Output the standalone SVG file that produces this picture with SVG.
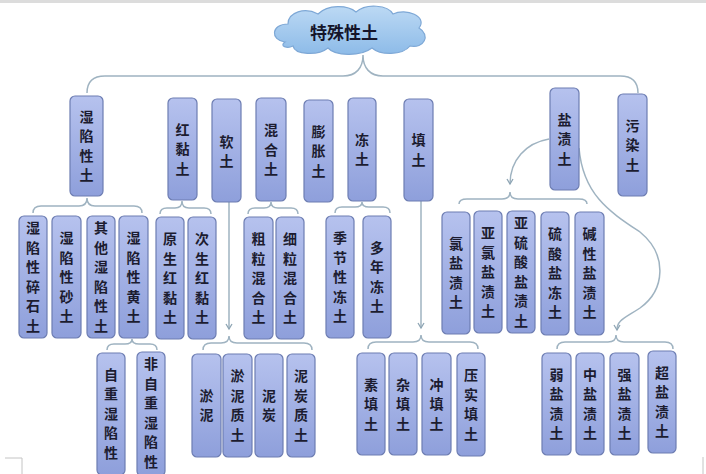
<svg xmlns="http://www.w3.org/2000/svg" width="706" height="474" viewBox="0 0 706 474">
<defs>
<linearGradient id="ng" x1="0" y1="0" x2="0" y2="1">
<stop offset="0" stop-color="#b6c2ee"/>
<stop offset="1" stop-color="#8e9fdb"/>
</linearGradient>
<linearGradient id="cg" x1="0" y1="0" x2="0" y2="1">
<stop offset="0" stop-color="#bcd9f4"/>
<stop offset="1" stop-color="#8dbbe8"/>
</linearGradient>
<marker id="ah" markerWidth="8" markerHeight="8" refX="6" refY="4" orient="auto" markerUnits="userSpaceOnUse">
<path d="M1,1 L6,4 L1,7" fill="none" stroke="#8ea5b4" stroke-width="1.3"/>
</marker>
<style>
.n{fill:url(#ng);stroke:#6d7db2;stroke-width:1.2}
.t{font-family:"Noto Sans CJK SC","Noto Sans CJK TC",sans-serif;font-size:14px;font-weight:bold;fill:#1c1c30;text-anchor:middle}
.c{fill:none;stroke:#9fb3c1;stroke-width:1.5}
.a{marker-end:url(#ah)}
</style>
</defs>
<rect x="0" y="0" width="706" height="474" fill="#ffffff"/>
<rect x="0" y="0" width="706" height="3" fill="#dcdcdc"/>
<path d="M5,458 L22,458 L22,474" fill="none" stroke="#c4c4c4" stroke-width="1"/>
<path d="M703,457 L703,474" fill="none" stroke="#c4c4c4" stroke-width="1"/>

<g id="connectors">
<path class="c" d="M87,93 C87,82 92,76 105,76 L343,76 C356,76 363,68 363,55 C363,68 370,76 383,76 L620,76 C633,76 638,82 638,93"/>
<path class="c" d="M33,213 Q33,206 41,206 L79,206 Q87,206 87,198 Q87,206 95,206 L134,206 Q142,206 142,213"/>
<path class="c" d="M160,214 Q160,208 167,208 L175,208 Q182,208 182,201 Q182,208 189,208 L204,208 Q211,208 211,214"/>
<path class="c" d="M248,214 Q248,208 255,208 L264,208 Q271,208 271,202 Q271,208 278,208 L291,208 Q298,208 298,214"/>
<path class="c" d="M335,213 Q335,207 342,207 L355,207 Q362,207 362,202 Q362,207 369,207 L383,207 Q390,207 390,213"/>
<path class="c a" d="M229,202 L229,329"/>
<path class="c" d="M203,350 Q203,343 211,343 L221,343 Q229,343 229,336 Q229,343 237,343 L304,343 Q312,343 312,350"/>
<path class="c a" d="M421,201 L421,328"/>
<path class="c" d="M368,349 Q368,342 376,342 L413,342 Q421,342 421,335 Q421,342 429,342 L470,342 Q478,342 478,349"/>
<path class="c" d="M107,350 Q107,344 114,344 L125,344 Q132,344 132,339 Q132,344 139,344 L150,344 Q157,344 157,350"/>
<path class="c a" d="M549,139 C526,143 510,160 510,184"/>
<path class="c" d="M459,204 Q459,199 467,199 L502,199 Q510,199 510,192 Q510,199 518,199 L579,199 Q587,199 587,204"/>
<path class="c a" d="M579,148 C583,195 610,212 640,232 C668,255 665,290 640,308 C625,318 617,320 617,330"/>
<path class="c" d="M557,349 Q557,342 565,342 L608,342 Q616,342 616,335 Q616,342 624,342 L665,342 Q673,342 673,349"/>
</g>

<g id="root">
<path d="M285,42 C270,40 271,24 288,24 C288,12 305,7 318,14 C328,4 348,5 356,12 C366,3 388,5 393,14 C406,8 428,16 419,28 C431,35 424,49 410,46 C402,56 380,55 372,48 C360,57 335,56 328,48 C318,56 295,55 293,46 C287,49 279,46 285,42 Z" fill="url(#cg)" stroke="#7ea8d6" stroke-width="1.2"/>
<text x="344" y="39" style="font-family:'Noto Sans CJK SC',sans-serif;font-size:17px;font-weight:bold;fill:#15152a;text-anchor:middle">特殊性土</text>
</g>

<g id="n-shixianxing"><rect class="n" x="70" y="96" width="33" height="100" rx="5"/><text class="t"><tspan x="86.5" y="121.8">湿</tspan><tspan x="86.5" y="141.3">陷</tspan><tspan x="86.5" y="160.8">性</tspan><tspan x="86.5" y="180.3">土</tspan></text></g>
<g id="n-hongnian"><rect class="n" x="168" y="98" width="29" height="102" rx="5"/><text class="t"><tspan x="182.5" y="134.5">红</tspan><tspan x="182.5" y="154">黏</tspan><tspan x="182.5" y="173.5">土</tspan></text></g>
<g id="n-ruantu"><rect class="n" x="212" y="99" width="29" height="103" rx="5"/><text class="t"><tspan x="226.5" y="146.5">软</tspan><tspan x="226.5" y="166">土</tspan></text></g>
<g id="n-hunhe"><rect class="n" x="256" y="98" width="30" height="103" rx="5"/><text class="t"><tspan x="271" y="135">混</tspan><tspan x="271" y="154.5">合</tspan><tspan x="271" y="174">土</tspan></text></g>
<g id="n-pengzhang"><rect class="n" x="304" y="100" width="29" height="102" rx="5"/><text class="t"><tspan x="318.5" y="136.5">膨</tspan><tspan x="318.5" y="156">胀</tspan><tspan x="318.5" y="175.5">土</tspan></text></g>
<g id="n-dongtu"><rect class="n" x="348" y="98" width="28" height="103" rx="5"/><text class="t"><tspan x="362" y="144.8">冻</tspan><tspan x="362" y="164.3">土</tspan></text></g>
<g id="n-tiantu"><rect class="n" x="404" y="99" width="29" height="102" rx="5"/><text class="t"><tspan x="418.5" y="145.3">填</tspan><tspan x="418.5" y="164.8">土</tspan></text></g>
<g id="n-yanzi"><rect class="n" x="550" y="88" width="29" height="102" rx="5"/><text class="t"><tspan x="564.5" y="124.5">盐</tspan><tspan x="564.5" y="144">渍</tspan><tspan x="564.5" y="163.5">土</tspan></text></g>
<g id="n-wuran"><rect class="n" x="618" y="94" width="29" height="102" rx="5"/><text class="t"><tspan x="632.5" y="130.5">污</tspan><tspan x="632.5" y="150">染</tspan><tspan x="632.5" y="169.5">土</tspan></text></g>

<g id="n-suishi"><rect class="n" x="19" y="216" width="28" height="122" rx="5"/><text class="t"><tspan x="33" y="233.3">湿</tspan><tspan x="33" y="252.8">陷</tspan><tspan x="33" y="272.3">性</tspan><tspan x="33" y="291.8">碎</tspan><tspan x="33" y="311.3">石</tspan><tspan x="33" y="330.8">土</tspan></text></g>
<g id="n-shatu"><rect class="n" x="52" y="216" width="29" height="122" rx="5"/><text class="t"><tspan x="66.5" y="243">湿</tspan><tspan x="66.5" y="262.5">陷</tspan><tspan x="66.5" y="282">性</tspan><tspan x="66.5" y="301.5">砂</tspan><tspan x="66.5" y="321">土</tspan></text></g>
<g id="n-qita"><rect class="n" x="87" y="216" width="28" height="122" rx="5"/><text class="t"><tspan x="101" y="233.3">其</tspan><tspan x="101" y="252.8">他</tspan><tspan x="101" y="272.3">湿</tspan><tspan x="101" y="291.8">陷</tspan><tspan x="101" y="311.3">性</tspan><tspan x="101" y="330.8">土</tspan></text></g>
<g id="n-huangtu"><rect class="n" x="119" y="216" width="29" height="122" rx="5"/><text class="t"><tspan x="133.5" y="243">湿</tspan><tspan x="133.5" y="262.5">陷</tspan><tspan x="133.5" y="282">性</tspan><tspan x="133.5" y="301.5">黄</tspan><tspan x="133.5" y="321">土</tspan></text></g>
<g id="n-yuansheng"><rect class="n" x="156" y="217" width="28" height="122" rx="5"/><text class="t"><tspan x="170" y="244">原</tspan><tspan x="170" y="263.5">生</tspan><tspan x="170" y="283">红</tspan><tspan x="170" y="302.5">黏</tspan><tspan x="170" y="322">土</tspan></text></g>
<g id="n-cisheng"><rect class="n" x="188" y="217" width="28" height="122" rx="5"/><text class="t"><tspan x="202" y="244">次</tspan><tspan x="202" y="263.5">生</tspan><tspan x="202" y="283">红</tspan><tspan x="202" y="302.5">黏</tspan><tspan x="202" y="322">土</tspan></text></g>
<g id="n-culi"><rect class="n" x="244" y="217" width="29" height="122" rx="5"/><text class="t"><tspan x="258.5" y="244">粗</tspan><tspan x="258.5" y="263.5">粒</tspan><tspan x="258.5" y="283">混</tspan><tspan x="258.5" y="302.5">合</tspan><tspan x="258.5" y="322">土</tspan></text></g>
<g id="n-xili"><rect class="n" x="276" y="217" width="28" height="122" rx="5"/><text class="t"><tspan x="290" y="244">细</tspan><tspan x="290" y="263.5">粒</tspan><tspan x="290" y="283">混</tspan><tspan x="290" y="302.5">合</tspan><tspan x="290" y="322">土</tspan></text></g>
<g id="n-jijie"><rect class="n" x="326" y="216" width="28" height="122" rx="5"/><text class="t"><tspan x="340" y="243">季</tspan><tspan x="340" y="262.5">节</tspan><tspan x="340" y="282">性</tspan><tspan x="340" y="301.5">冻</tspan><tspan x="340" y="321">土</tspan></text></g>
<g id="n-duonian"><rect class="n" x="363" y="216" width="28" height="122" rx="5"/><text class="t"><tspan x="377" y="252.8">多</tspan><tspan x="377" y="272.3">年</tspan><tspan x="377" y="291.8">冻</tspan><tspan x="377" y="311.3">土</tspan></text></g>
<g id="n-lvyan"><rect class="n" x="442" y="212" width="28" height="122" rx="5"/><text class="t"><tspan x="456" y="248.8">氯</tspan><tspan x="456" y="268.3">盐</tspan><tspan x="456" y="287.8">渍</tspan><tspan x="456" y="307.3">土</tspan></text></g>
<g id="n-yalv"><rect class="n" x="474" y="211" width="28" height="122" rx="5"/><text class="t"><tspan x="488" y="238">亚</tspan><tspan x="488" y="257.5">氯</tspan><tspan x="488" y="277">盐</tspan><tspan x="488" y="296.5">渍</tspan><tspan x="488" y="316">土</tspan></text></g>
<g id="n-yaliusuan"><rect class="n" x="507" y="211" width="28" height="122" rx="5"/><text class="t"><tspan x="521" y="228.3">亚</tspan><tspan x="521" y="247.8">硫</tspan><tspan x="521" y="267.3">酸</tspan><tspan x="521" y="286.8">盐</tspan><tspan x="521" y="306.3">渍</tspan><tspan x="521" y="325.8">土</tspan></text></g>
<g id="n-liusuan"><rect class="n" x="541" y="212" width="28" height="123" rx="5"/><text class="t"><tspan x="555" y="239">硫</tspan><tspan x="555" y="258.5">酸</tspan><tspan x="555" y="278">盐</tspan><tspan x="555" y="297.5">冻</tspan><tspan x="555" y="317">土</tspan></text></g>
<g id="n-jianxing"><rect class="n" x="575" y="212" width="29" height="123" rx="5"/><text class="t"><tspan x="589.5" y="239">碱</tspan><tspan x="589.5" y="258.5">性</tspan><tspan x="589.5" y="278">盐</tspan><tspan x="589.5" y="297.5">渍</tspan><tspan x="589.5" y="317">土</tspan></text></g>

<g id="n-zizhong"><rect class="n" x="97" y="353" width="28" height="122" rx="5"/><text class="t"><tspan x="111" y="379.5">自</tspan><tspan x="111" y="399">重</tspan><tspan x="111" y="418.5">湿</tspan><tspan x="111" y="438">陷</tspan><tspan x="111" y="457.5">性</tspan></text></g>
<g id="n-feizizhong"><rect class="n" x="137" y="352" width="28" height="124" rx="5"/><text class="t"><tspan x="151" y="369.3">非</tspan><tspan x="151" y="388.8">自</tspan><tspan x="151" y="408.3">重</tspan><tspan x="151" y="427.8">湿</tspan><tspan x="151" y="447.3">陷</tspan><tspan x="151" y="466.8">性</tspan></text></g>
<g id="n-yuni"><rect class="n" x="192" y="354" width="29" height="103" rx="5"/><text class="t"><tspan x="206.5" y="400.8">淤</tspan><tspan x="206.5" y="420.3">泥</tspan></text></g>
<g id="n-yunizhi"><rect class="n" x="223" y="354" width="29" height="103" rx="5"/><text class="t"><tspan x="237.5" y="381.3">淤</tspan><tspan x="237.5" y="400.8">泥</tspan><tspan x="237.5" y="420.3">质</tspan><tspan x="237.5" y="439.8">土</tspan></text></g>
<g id="n-nitan"><rect class="n" x="255" y="354" width="28" height="103" rx="5"/><text class="t"><tspan x="269" y="400.8">泥</tspan><tspan x="269" y="420.3">炭</tspan></text></g>
<g id="n-nitanzhi"><rect class="n" x="287" y="354" width="28" height="103" rx="5"/><text class="t"><tspan x="301" y="381.3">泥</tspan><tspan x="301" y="400.8">炭</tspan><tspan x="301" y="420.3">质</tspan><tspan x="301" y="439.8">土</tspan></text></g>
<g id="n-sutian"><rect class="n" x="357" y="353" width="28" height="102" rx="5"/><text class="t"><tspan x="371" y="389.5">素</tspan><tspan x="371" y="409">填</tspan><tspan x="371" y="428.5">土</tspan></text></g>
<g id="n-zatian"><rect class="n" x="389" y="353" width="28" height="102" rx="5"/><text class="t"><tspan x="403" y="389.5">杂</tspan><tspan x="403" y="409">填</tspan><tspan x="403" y="428.5">土</tspan></text></g>
<g id="n-chongtian"><rect class="n" x="422" y="353" width="29" height="102" rx="5"/><text class="t"><tspan x="436.5" y="389.5">冲</tspan><tspan x="436.5" y="409">填</tspan><tspan x="436.5" y="428.5">土</tspan></text></g>
<g id="n-yashi"><rect class="n" x="457" y="353" width="28" height="103" rx="5"/><text class="t"><tspan x="471" y="380.3">压</tspan><tspan x="471" y="399.8">实</tspan><tspan x="471" y="419.3">填</tspan><tspan x="471" y="438.8">土</tspan></text></g>
<g id="n-ruoyan"><rect class="n" x="542" y="353" width="29" height="102" rx="5"/><text class="t"><tspan x="556.5" y="379.8">弱</tspan><tspan x="556.5" y="399.3">盐</tspan><tspan x="556.5" y="418.8">渍</tspan><tspan x="556.5" y="438.3">土</tspan></text></g>
<g id="n-zhongyan"><rect class="n" x="576" y="353" width="28" height="102" rx="5"/><text class="t"><tspan x="590" y="379.8">中</tspan><tspan x="590" y="399.3">盐</tspan><tspan x="590" y="418.8">渍</tspan><tspan x="590" y="438.3">土</tspan></text></g>
<g id="n-qiangyan"><rect class="n" x="610" y="353" width="29" height="102" rx="5"/><text class="t"><tspan x="624.5" y="379.8">强</tspan><tspan x="624.5" y="399.3">盐</tspan><tspan x="624.5" y="418.8">渍</tspan><tspan x="624.5" y="438.3">土</tspan></text></g>
<g id="n-chaoyan"><rect class="n" x="648" y="351" width="28" height="102" rx="5"/><text class="t"><tspan x="662" y="377.8">超</tspan><tspan x="662" y="397.3">盐</tspan><tspan x="662" y="416.8">渍</tspan><tspan x="662" y="436.3">土</tspan></text></g>
</svg>
